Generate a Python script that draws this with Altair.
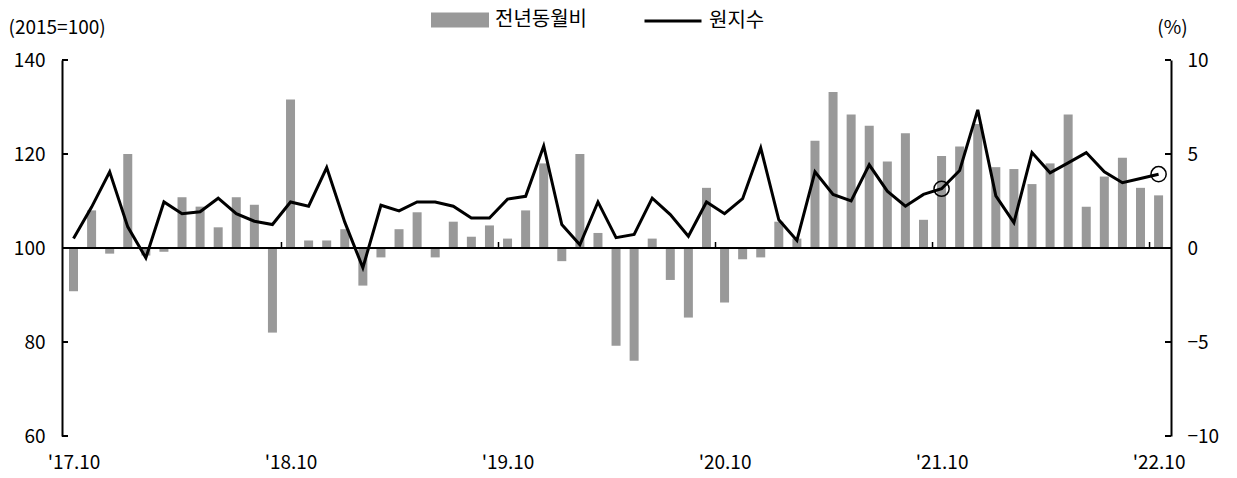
import json
import altair as alt
import pandas as pd

# 전년동월비 (%), monthly from 2017.10 to 2022.10
yoy = [-2.3, 2.0, -0.3, 5.0, -0.4, -0.2, 2.7, 2.2, 1.1, 2.7, 2.3,
       -4.5, 7.9, 0.4, 0.4, 1.0, -2.0, -0.5, 1.0, 1.9, -0.5,
       1.4, 0.6, 1.2, 0.5, 2.0, 4.5, -0.7, 5.0, 0.8, -5.2,
       -6.0, 0.5, -1.7, -3.7, 3.2, -2.9, -0.6, -0.5, 1.4, 0.5,
       5.7, 8.3, 7.1, 6.5, 4.6, 6.1, 1.5, 4.9, 5.4, 6.6,
       4.3, 4.2, 3.4, 4.5, 7.1, 2.2, 3.8, 4.8, 3.2, 2.8]

# 원지수 (2015=100)
index_vals = [102.0, 108.7, 116.2, 104.5, 97.9, 109.8, 107.3, 107.7, 110.6, 107.3, 105.7,
              105.0, 109.8, 108.9, 117.1, 105.5, 95.8, 109.1, 107.9, 109.8, 109.8,
              108.9, 106.4, 106.4, 110.4, 111.0, 121.7, 105.0, 100.7, 109.8, 102.2,
              102.9, 110.6, 107.1, 102.5, 109.8, 107.3, 110.5, 121.3, 106.0, 101.6,
              116.2, 111.4, 110.0, 117.7, 112.1, 108.9, 111.4, 112.6, 116.5, 129.4,
              111.1, 105.4, 120.3, 116.0, 118.1, 120.3, 116.2, 113.9, 114.8, 115.7]

months = [f"{2017 + (9 + i) // 12}.{(9 + i) % 12 + 1}" for i in range(len(yoy))]
tick_labels = ["'17.10", "'18.10", "'19.10", "'20.10", "'21.10", "'22.10"]
circled = ["2021.10", "2022.10"]
left_ticks = [60, 80, 100, 120, 140]
right_ticks = [-10, -5, 0, 5, 10]

BAR_NAME = "전년동월비"
LINE_NAME = "원지수"

df = pd.DataFrame({
    "t": list(range(len(yoy))),
    "month": months,
    "yoy": yoy,
    "idx": index_vals,
    "sb": BAR_NAME,
    "sl": LINE_NAME,
})
year_df = pd.DataFrame({"t": [i for i in range(len(yoy)) if i % 12 == 0 and i > 0]})
tick_df = pd.DataFrame({"v": left_ticks})

W, H = 1109, 376
FONT = "Noto Sans CJK KR"
FS = 19

x_scale = alt.Scale(domain=[-0.36, 60.41], nice=False, zero=False)
x_axis = alt.Axis(values=[0, 12, 24, 36, 48, 60],
                  labelExpr=json.dumps(tick_labels) + "[round(datum.value/12)]",
                  domain=False, ticks=False, grid=False, labelFlush=False,
                  labelOverlap=False, labelPadding=17, title=None,
                  labelFont=FONT, labelFontSize=FS, labelColor="black")
X = alt.X("t:Q", scale=x_scale, axis=x_axis)

yL = alt.Scale(domain=[60, 140], nice=False, zero=False)
yR = alt.Scale(domain=[-10, 10], nice=False, zero=False)

left_axis = alt.Axis(orient="left", values=left_ticks, ticks=False, grid=False,
                     domainColor="black", domainWidth=2,
                     labelFont=FONT, labelFontSize=FS, labelColor="black",
                     labelPadding=17, title="(2015=100)", titleAngle=0,
                     titleAlign="left", titleBaseline="middle", titleX=-54, titleY=-33,
                     titleFontWeight="normal", titleFontSize=FS, titleFont=FONT,
                     titleColor="black")
right_axis = alt.Axis(orient="right", values=right_ticks, ticks=False, grid=False,
                      domainColor="black", domainWidth=2,
                      labelFont=FONT, labelFontSize=FS, labelColor="black",
                      labelPadding=16, title="(%)", titleAngle=0,
                      titleAlign="center", titleBaseline="middle", titleX=1, titleY=-33,
                      titleFontWeight="normal", titleFontSize=FS, titleFont=FONT,
                      titleColor="black")

base = alt.Chart(df)

bars = base.mark_bar(size=9).encode(
    x=X,
    y=alt.Y("yoy:Q", scale=yR, axis=right_axis),
    fill=alt.Fill("sb:N", scale=alt.Scale(range=["#999999"]),
                  legend=alt.Legend(orient="none", legendX=369, legendY=-69, title=None,
                                    symbolType="M-1,-0.26H1V0.26H-1Z", symbolSize=3364,
                                    symbolStrokeWidth=0, symbolOpacity=1, padding=0,
                                    labelFont=FONT, labelFontSize=20, labelColor="black",
                                    labelOffset=6)),
)

line = base.mark_line(strokeWidth=3).encode(
    x=X,
    y=alt.Y("idx:Q", scale=yL, axis=left_axis),
    stroke=alt.Stroke("sl:N", scale=alt.Scale(range=["black"]),
                      legend=alt.Legend(orient="none", legendX=581, legendY=-69, title=None,
                                        symbolType="stroke", symbolSize=3249,
                                        symbolStrokeWidth=3, padding=0,
                                        labelFont=FONT, labelFontSize=20, labelColor="black",
                                        labelOffset=6)),
)

zero_rule = alt.Chart(df).mark_rule(color="black", strokeWidth=2).encode(
    y=alt.Y(datum=100, scale=yL, axis=None))

year_ticks = alt.Chart(year_df).transform_calculate(tb="datum.t - 0.5").mark_rule(
    color="black", strokeWidth=1.5, y2Offset=-6).encode(
    x=alt.X("tb:Q", scale=x_scale, axis=x_axis),
    y=alt.Y(datum=100, scale=yL, axis=None),
    y2=alt.Y2(datum=100))

lt = alt.Chart(tick_df).mark_rule(color="black", strokeWidth=2).encode(
    x=alt.value(0), x2=alt.value(6), y=alt.Y("v:Q", scale=yL, axis=None))
rt = alt.Chart(tick_df).mark_rule(color="black", strokeWidth=2).encode(
    x=alt.value(W), x2=alt.value(W - 6), y=alt.Y("v:Q", scale=yL, axis=None))

points = base.transform_filter(alt.FieldOneOfPredicate(field="month", oneOf=circled)).mark_point(
    shape="circle", size=230, filled=False, color="black", strokeWidth=1.5, opacity=1).encode(
    x=X, y=alt.Y("idx:Q", scale=yL, axis=None))

chart = alt.layer(bars, line, zero_rule, year_ticks, lt, rt, points).resolve_scale(
    y="independent").properties(
    width=W, height=H,
    autosize=alt.AutoSizeParams(type="none"),
    padding={"left": 54, "top": 52, "right": 58, "bottom": 40},
    background="white",
).configure_view(stroke=None)

chart.save("out.html", embed_options={"renderer": "svg", "actions": False})
